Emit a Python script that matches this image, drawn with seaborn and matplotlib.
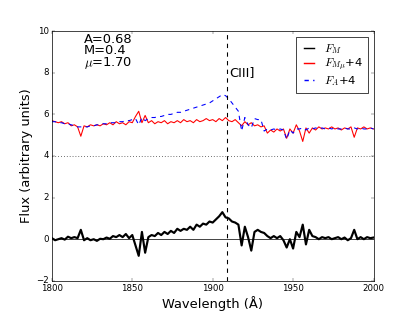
import numpy as np
import matplotlib
matplotlib.use("Agg")
import matplotlib.pyplot as plt
import seaborn as sns

# wavelength grid (Angstrom), sampled every 2 A
wave = np.arange(1800, 2001, 2)

# F_M
flux_m = [0.05, -0.05, 0.0, 0.05, -0.02, 0.12, 0.05, 0.1, 0.05, 0.45,
          -0.05, 0.05, -0.05, 0.0, -0.08, 0.02, 0.0, 0.08, 0.02, 0.15,
          0.1, 0.2, 0.1, 0.25, 0.05, 0.2, -0.3, -0.8, 0.35, -0.65,
          0.1, 0.2, 0.15, 0.3, 0.2, 0.35, 0.25, 0.4, 0.3, 0.5,
          0.4, 0.5, 0.45, 0.6, 0.45, 0.7, 0.6, 0.75, 0.7, 0.85,
          0.8, 0.95, 1.1, 1.3, 1.05, 1.0, 0.85, 0.8, 0.7, -0.3,
          0.6, 0.1, -0.55, 0.35, 0.45, 0.35, 0.3, 0.15, 0.05, 0.15,
          0.05, 0.15, -0.05, -0.4, 0.0, -0.45, 0.35, 0.1, 0.7, -0.25,
          0.45, 0.15, 0.1, 0.0, 0.1, 0.05, 0.1, 0.0, 0.05, 0.1,
          0.0, 0.08, -0.05, 0.05, 0.45, 0.0, 0.1, 0.0, 0.1, 0.05,
          0.08]

# F_Mmu + 4
flux_mmu = [5.7, 5.65, 5.6, 5.65, 5.55, 5.6, 5.45, 5.5, 5.4, 4.95,
            5.45, 5.4, 5.5, 5.45, 5.5, 5.45, 5.55, 5.5, 5.6, 5.5,
            5.65, 5.55, 5.6, 5.5, 5.65, 5.6, 5.9, 6.15, 5.6, 5.95,
            5.6, 5.7, 5.55, 5.65, 5.6, 5.7, 5.55, 5.65, 5.6, 5.7,
            5.6, 5.75, 5.65, 5.7, 5.6, 5.75, 5.65, 5.7, 5.8, 5.7,
            5.75, 5.65, 5.8, 5.7, 5.85, 5.7, 5.65, 5.75, 5.6, 5.45,
            5.65, 5.5, 5.6, 5.45, 5.5, 5.4, 5.45, 5.1, 5.25, 5.15,
            5.3, 5.2, 5.3, 4.85, 5.3, 5.1, 5.5, 5.2, 4.7, 5.35,
            5.1, 5.35, 5.25, 5.4, 5.3, 5.35, 5.3, 5.4, 5.3, 5.35,
            5.25, 5.35, 5.3, 5.4, 4.9, 5.35, 5.3, 5.4, 5.3, 5.35,
            5.3]

# F_A + 4
flux_a = [5.65, 5.65, 5.6, 5.6, 5.55, 5.55, 5.5, 5.45, 5.4, 5.4,
          5.4, 5.4, 5.45, 5.45, 5.5, 5.5, 5.55, 5.55, 5.6, 5.6,
          5.6, 5.65, 5.65, 5.7, 5.7, 5.75, 5.8, 5.5, 5.85, 5.7,
          5.8, 5.85, 5.85, 5.9, 5.9, 5.95, 6.0, 6.0, 6.05, 6.1,
          6.1, 6.15, 6.2, 6.25, 6.3, 6.35, 6.4, 6.45, 6.5, 6.55,
          6.65, 6.75, 6.85, 6.95, 6.9, 6.75, 6.55, 6.35, 6.15, 5.2,
          5.85, 5.5, 5.35, 5.8, 5.75, 5.75, 5.2, 5.3, 5.25, 5.3,
          5.25, 5.3, 5.25, 4.8, 5.25, 5.1, 5.3, 5.3, 5.35, 5.25,
          5.35, 5.3, 5.35, 5.3, 5.35, 5.3, 5.35, 5.3, 5.35, 5.3,
          5.3, 5.35, 5.3, 5.3, 5.35, 5.3, 5.35, 5.3, 5.3, 5.35,
          5.3]

ciii_wave = 1909

plt.style.use("classic")
dpi = 51.875
fig, ax = plt.subplots(figsize=(415 / dpi, 312 / dpi), dpi=dpi)
fig.patch.set_facecolor("white")

sns.lineplot(x=wave, y=flux_m, color="k", lw=3, label=r"$F_M$", ax=ax)
sns.lineplot(x=wave, y=flux_mmu, color="r", lw=1.5, label=r"$F_{M\mu}$+4", ax=ax)
sns.lineplot(x=wave, y=flux_a, color="b", lw=1.5, linestyle="--",
             label=r"$F_A$+4", ax=ax)

ax.axhline(0, color="k", lw=1)
ax.axhline(4, color="k", lw=1, linestyle=":")
ax.axvline(ciii_wave, color="k", lw=1.5, linestyle="--")
ax.text(ciii_wave + 1, 7.85, "CIII]", fontsize=18)
ax.text(1820, 9.9, "A=0.68\nM=0.4\n$\\mu$=1.70", fontsize=18, va="top",
        linespacing=0.8)

ax.set_xlim(1800, 2000)
ax.set_ylim(-2, 10)
ax.set_xticks([1800, 1850, 1900, 1950, 2000])
ax.set_yticks([-2, 0, 2, 4, 6, 8, 10])
ax.set_xlabel("Wavelength (Å)", fontsize=18)
ax.set_ylabel("Flux (arbitrary units)", fontsize=18)
leg = ax.legend(loc="upper right", fontsize=16, labelspacing=0.1,
                handlelength=1.4, handletextpad=0.6, borderpad=0.4)
for line in leg.get_lines():
    line.set_linewidth(2)

plt.savefig("out.png", dpi=dpi, facecolor="white")
